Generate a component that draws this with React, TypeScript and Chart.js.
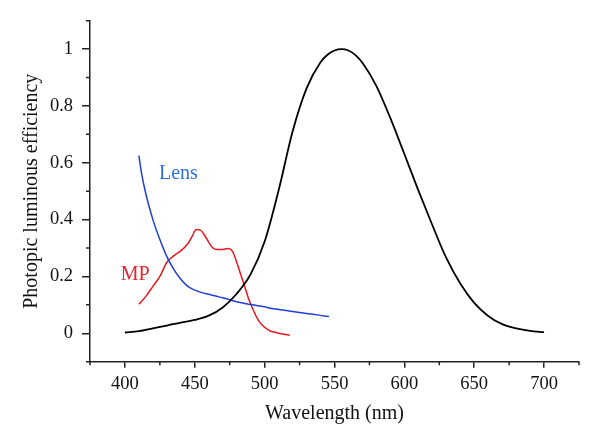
import React, { useEffect, useRef } from "react";
import { Chart, registerables } from "chart.js";

Chart.register(...registerables);

// Photopic luminous efficiency (black curve)
const photopicWl = [400, 410, 420, 430, 440, 450, 460, 470, 480, 490, 500, 510, 520, 530, 540, 545, 550, 555, 560, 565, 570, 580, 590, 600, 610, 620, 630, 640, 650, 660, 670, 680, 690, 700];
const photopicV = [0.0028, 0.0074, 0.0175, 0.0273, 0.0379, 0.0468, 0.062, 0.091, 0.139, 0.208, 0.323, 0.503, 0.71, 0.862, 0.954, 0.98, 0.995, 1.0, 0.995, 0.979, 0.952, 0.87, 0.757, 0.631, 0.503, 0.381, 0.265, 0.175, 0.107, 0.061, 0.032, 0.017, 0.0082, 0.0041];

// Lens (blue curve)
const lensWl = [410, 412, 415, 420, 425, 430, 435, 440, 445, 450, 455, 460, 465, 470, 475, 480, 485, 490, 495, 500, 505, 510, 520, 530, 540, 546];
const lensV = [0.625, 0.56, 0.49, 0.4, 0.33, 0.27, 0.225, 0.19, 0.165, 0.152, 0.143, 0.137, 0.131, 0.125, 0.118, 0.111, 0.106, 0.101, 0.097, 0.093, 0.087, 0.084, 0.077, 0.07, 0.063, 0.059];

// Macular pigment (red curve)
const mpWl = [410, 415, 420, 425, 430, 433, 437, 440, 445, 448, 451, 454, 457, 460, 463, 466, 470, 474, 477, 480, 483, 486, 489, 492, 495, 498, 501, 504, 508, 512, 518];
const mpV = [0.102, 0.13, 0.165, 0.2, 0.25, 0.265, 0.28, 0.29, 0.315, 0.34, 0.365, 0.363, 0.345, 0.32, 0.3, 0.295, 0.295, 0.298, 0.288, 0.25, 0.205, 0.16, 0.115, 0.08, 0.05, 0.03, 0.017, 0.008, 0.003, -0.002, -0.007];

const xMajorTicks = [400, 450, 500, 550, 600, 650, 700];
const xMinorTicks = [375, 425, 475, 525, 575, 625, 675, 725];
const yMajorTicks = [0, 0.2, 0.4, 0.6, 0.8, 1];
const yTickLabels = ["0", "0.2", "0.4", "0.6", "0.8", "1"];
const yMinorTicks = [-0.1, 0.1, 0.3, 0.5, 0.7, 0.9, 1.1];

const curveLabels = [
  { text: "Lens", x: 438.3, y: 0.563, color: "#2f6fdc" },
  { text: "MP", x: 407.3, y: 0.207, color: "#e3262a" },
];

const FONT = "'Liberation Serif', 'Times New Roman', serif";
const AXIS_COLOR = "#222";

const toPoints = (xs: number[], ys: number[]) => xs.map((x, i) => ({ x, y: ys[i] }));

const overlayPlugin = {
  id: "overlay",
  afterDraw(chart: any) {
    const ctx = chart.ctx;
    const xs = chart.scales.x;
    const ys = chart.scales.y;
    const area = chart.chartArea;
    ctx.save();
    ctx.strokeStyle = AXIS_COLOR;
    ctx.lineWidth = 1.5;
    ctx.beginPath();
    for (const v of xMinorTicks) {
      const px = xs.getPixelForValue(v);
      ctx.moveTo(px, area.bottom);
      ctx.lineTo(px, area.bottom + 3.5);
    }
    for (const v of yMinorTicks) {
      const py = ys.getPixelForValue(v);
      ctx.moveTo(area.left, py);
      ctx.lineTo(area.left - 4, py);
    }
    ctx.stroke();
    ctx.font = `20px ${FONT}`;
    ctx.textAlign = "center";
    ctx.textBaseline = "middle";
    for (const l of curveLabels) {
      ctx.fillStyle = l.color;
      ctx.fillText(l.text, xs.getPixelForValue(l.x), ys.getPixelForValue(l.y));
    }
    ctx.restore();
  },
};

export default function App() {
  const ref = useRef<HTMLCanvasElement | null>(null);

  useEffect(() => {
    if (!ref.current) return;
    const chart = new Chart(ref.current, {
      type: "line",
      data: {
        datasets: [
          {
            data: toPoints(photopicWl, photopicV),
            borderColor: "#000",
            borderWidth: 1.8,
            pointRadius: 0,
            cubicInterpolationMode: "monotone",
          },
          {
            data: toPoints(lensWl, lensV),
            borderColor: "#1f3fd6",
            borderWidth: 1.5,
            pointRadius: 0,
            cubicInterpolationMode: "monotone",
          },
          {
            data: toPoints(mpWl, mpV),
            borderColor: "#e3191f",
            borderWidth: 1.5,
            pointRadius: 0,
            cubicInterpolationMode: "monotone",
          },
        ],
      },
      options: {
        responsive: false,
        animation: false,
        devicePixelRatio: 1,
        layout: { padding: { left: 0, top: 20.7, right: 21, bottom: 0 } },
        plugins: { legend: { display: false }, tooltip: { enabled: false } },
        scales: {
          x: {
            type: "linear",
            min: 375,
            max: 725,
            afterBuildTicks: (scale: any) => {
              scale.ticks = xMajorTicks.map((v) => ({ value: v }));
            },
            afterFit: (scale: any) => {
              scale.height = 85.3;
            },
            grid: { drawOnChartArea: false, drawTicks: true, tickLength: 6, color: AXIS_COLOR, lineWidth: 1.5 },
            border: { display: true, color: AXIS_COLOR, width: 1.5 },
            ticks: {
              color: "#111",
              padding: 5,
              maxRotation: 0,
              font: { family: FONT, size: 18.5 },
              callback: (v: any) => String(v),
            },
            title: {
              display: true,
              text: "Wavelength (nm)",
              color: "#111",
              font: { family: FONT, size: 20 },
              padding: { top: 0, bottom: 21 },
            },
          },
          y: {
            type: "linear",
            min: -0.1,
            max: 1.1,
            afterBuildTicks: (scale: any) => {
              scale.ticks = yMajorTicks.map((v) => ({ value: v }));
            },
            afterFit: (scale: any) => {
              scale.width = 90;
            },
            grid: { drawOnChartArea: false, drawTicks: true, tickLength: 8, color: AXIS_COLOR, lineWidth: 1.5 },
            border: { display: true, color: AXIS_COLOR, width: 1.5 },
            ticks: {
              color: "#111",
              padding: 9,
              font: { family: FONT, size: 18.5 },
              callback: (_v: any, i: number) => yTickLabels[i],
            },
            title: {
              display: true,
              text: "Photopic luminous efficiency",
              color: "#111",
              font: { family: FONT, size: 20 },
              padding: { top: 20, bottom: 0 },
            },
          },
        },
      },
      plugins: [overlayPlugin],
    } as any);
    return () => chart.destroy();
  }, []);

  return (
    <div style={{ position: "absolute", left: 0, top: 0, width: 600, height: 447, background: "#fff" }}>
      <canvas ref={ref} width={600} height={447} style={{ width: 600, height: 447 }} />
    </div>
  );
}
